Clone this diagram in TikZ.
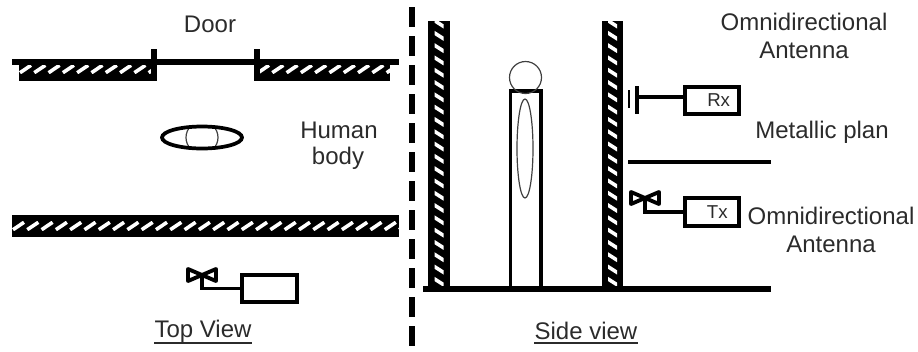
\documentclass[tikz,border=0pt]{standalone}
\usepackage{fontspec}
\setmainfont{Liberation Sans}
\definecolor{ink}{gray}{0.17}
\newcommand{\hhatch}[3]{% x1 x2 y-centre
  \begin{scope}
    \clip (#1,#3-4.4) rectangle (#2,#3+4.4);
    \pgfmathsetmacro{\hx}{#1+14.3}
    \foreach \q in {#1,\hx,...,#2} \draw[hatchline] (\q+1,#3+3.7) -- (\q+12,#3-3.7);
  \end{scope}}
\newcommand{\vhatch}[3]{% x-centre y1 y2
  \begin{scope}
    \clip (#1-4.5,#2) rectangle (#1+4.5,#3);
    \pgfmathsetmacro{\hy}{#2+12.3}
    \foreach \q in {#2,\hy,...,#3} \draw[hatchline] (#1-5.5,\q-1) -- (#1+5.5,\q+6);
  \end{scope}}
\newcommand{\antbow}[3]{% x y name
  \coordinate (#3) at (#1,#2);
  \draw[wire,line join=round] (#3) -- (#1-14,#2-6) -- (#1-14,#2+6) -- cycle;
  \draw[wire,line join=round] (#3) -- (#1+14,#2-6) -- (#1+14,#2+6) -- cycle;}
\tikzset{
  hatchline/.style={white,line width=2.7pt},
  wallline/.style={black,line width=4.2pt},
  wire/.style={black,line width=2.9pt},
  devbox/.style={draw=black,line width=3pt,rectangle,minimum width=41pt,minimum height=20.5pt,inner sep=0pt,anchor=center,font=\fontsize{14}{14}\selectfont,text=ink},
  lbl/.style={font=\fontsize{18}{18}\selectfont,text=ink,inner sep=0pt,anchor=center},
  uline/.style={ink,line width=0.9pt},
  thinring/.style={draw=black!75,line width=0.9pt},
}
\begin{document}
\begin{tikzpicture}[x=0.75pt,y=-0.75pt]
\useasboundingbox (0,0) rectangle (918,351);
% top view: upper wall with door
\fill[black] (19,65) rectangle (154,81);
\fill[black] (257,65) rectangle (390,81);
\hhatch{19}{154}{69}
\hhatch{257}{390}{69}
\draw[wallline] (12,62) -- (399,62);
\fill[black] (151,49) rectangle (157,81);
\fill[black] (254,49) rectangle (260,81);
% top view: lower wall
\fill[black] (12,215) rectangle (399,237);
\hhatch{12}{399}{226}
% body from above
\begin{scope}
  \clip (202,137.5) ellipse (40 and 11);
  \draw[thinring] (202,137.5) circle (16);
\end{scope}
\draw[black,line width=2.8pt] (202,137.5) ellipse (40 and 11);
% top view radio
\node[devbox] (topbox) at (269.5,288.5) {};
\antbow{202}{275}{topant}
\draw[wire] (topant) |- (topbox.west);
% side view walls
\fill[black] (428,21) rectangle (450,290);
\vhatch{439}{21}{286}
\fill[black] (602,21) rectangle (623,290);
\vhatch{612.5}{21}{286}
% person
\draw[black,line width=2.8pt] (510.5,91) rectangle (541,289);
\draw[thinring] (525.5,77.5) circle (16);
\draw[thinring] (525,148.5) ellipse (8 and 49.5);
% floor
\draw[black,line width=4.6pt] (423,289) -- (771,289);
% plate
\draw[black,line width=3.2pt] (628,162) -- (771,162);
% Rx
\node[devbox] (rx) at (712,100.5) {\hspace*{10pt}Rx};
\draw[black,line width=1.8pt] (629,90) -- (629,108);
\coordinate (rxant) at (637,97);
\draw[black,line width=3.6pt] (637,86) -- (637,114);
\draw[wire] (rxant) -- (rx.west |- rxant);
% Tx
\node[devbox] (tx) at (712,212) {\hspace*{8pt}Tx};
\antbow{645}{198}{txant}
\draw[wire] (txant) |- (tx.west);
% divider
\draw[black,line width=4.5pt,dash pattern=on 15pt off 6.75pt] (412,7) -- (412,351);
% labels
\node[lbl] (door) at (210,24) {Door};
\node[lbl] (human) at (339,130) {Human};
\node[lbl] (bodyt) at (338,158) {body};
\node[lbl] (tv) at (203,331) {Top View};
\draw[uline] (tv.west |- 0,343) -- (tv.east |- 0,343);
\node[lbl] (sv) at (586,331) {Side view};
\draw[uline] (sv.west |- 0,343) -- (sv.east |- 0,343);
\node[lbl] (oa1) at (804,22) {Omnidirectional};
\node[lbl] (oa2) at (804,50) {Antenna};
\node[lbl] (mp) at (822,132) {Metallic plan};
\node[lbl] (oa3) at (831,216) {Omnidirectional};
\node[lbl] (oa4) at (831,244) {Antenna};
\end{tikzpicture}
\end{document}
